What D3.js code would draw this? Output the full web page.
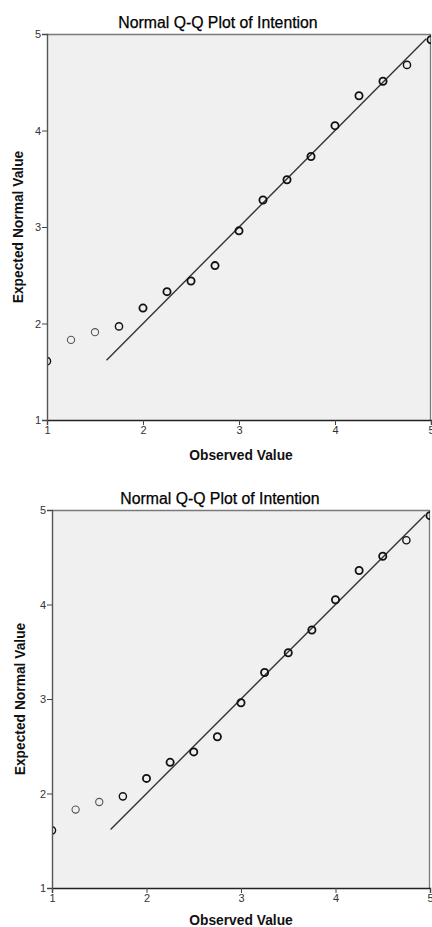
<!DOCTYPE html>
<html><head><meta charset="utf-8">
<script src="https://cdn.jsdelivr.net/npm/d3@7"></script>
<style>html,body{margin:0;padding:0;background:#fff;}svg{display:block;}</style>
</head><body>
<script>
const title = "Normal Q-Q Plot of Intention";
const xTitle = "Observed Value";
const yTitle = "Expected Normal Value";
const observed = [1, 1.25, 1.5, 1.75, 2, 2.25, 2.5, 2.75, 3, 3.25, 3.5, 3.75, 4, 4.25, 4.5, 4.75, 5];
const expected = [1.61, 1.83, 1.91, 1.97, 2.16, 2.33, 2.44, 2.60, 2.96, 3.28, 3.49, 3.73, 4.05, 4.36, 4.51, 4.68, 4.94];
const caseCounts = [2, 1, 1, 2, 3, 3, 3, 3, 4, 4, 4, 4, 4, 3, 4, 2, 3];
const refLine = [1.62, 4.95];
const xTicks = [1, 2, 3, 4, 5];
const yTicks = [1, 2, 3, 4, 5];

const svg = d3.select("body").append("svg").attr("width", 432).attr("height", 927);
const FONT = "Liberation Sans, Arial, sans-serif";

function drawChart(cfg, id) {
  const x = d3.scaleLinear().domain([1, 5]).range([cfg.left, cfg.right]);
  const y = d3.scaleLinear().domain([1, 5]).range([cfg.bottom, cfg.top]);
  const g = svg.append("g");
  g.append("clipPath").attr("id", "clip" + id).append("rect")
    .attr("x", cfg.left).attr("y", cfg.top).attr("width", cfg.right - cfg.left).attr("height", cfg.bottom - cfg.top);
  g.append("rect").attr("x", cfg.left).attr("y", cfg.top)
    .attr("width", cfg.right - cfg.left).attr("height", cfg.bottom - cfg.top)
    .attr("fill", "#f0f0f0");
  g.append("line").attr("x1", cfg.left).attr("x2", cfg.right).attr("y1", cfg.top + 0.5).attr("y2", cfg.top + 0.5)
    .attr("stroke", "#7a7a7a").attr("stroke-width", 1.3);
  g.append("line").attr("x1", cfg.right - 0.5).attr("x2", cfg.right - 0.5).attr("y1", cfg.top).attr("y2", cfg.bottom)
    .attr("stroke", "#7a7a7a").attr("stroke-width", 1.3);

  const plot = g.append("g").attr("clip-path", "url(#clip" + id + ")");
  plot.append("line")
    .attr("x1", x(refLine[0])).attr("y1", y(refLine[0]))
    .attr("x2", x(refLine[1])).attr("y2", y(refLine[1]))
    .attr("stroke", "#333").attr("stroke-width", 1.4);
  const pts = observed.map((o, i) => ({o, e: expected[i], c: caseCounts[i]}));
  plot.selectAll("circle").data(pts).enter().append("circle")
    .attr("cx", d => x(d.o)).attr("cy", d => y(d.e)).attr("r", 3.6)
    .attr("fill", "none")
    .attr("stroke", d => d.c <= 1 ? "#555" : "#111")
    .attr("stroke-width", d => d.c <= 1 ? 1.1 : (d.c === 2 ? 1.4 : 1.8));

  const xa = g.append("g").attr("transform", `translate(0,${cfg.bottom})`)
    .call(d3.axisBottom(x).tickValues(xTicks).tickSize(5).tickFormat(d3.format("d")));
  xa.select(".domain").attr("stroke", "#222").attr("stroke-width", 1.4);
  xa.selectAll(".tick line").attr("stroke", "#444");
  xa.selectAll(".tick text").attr("font-family", FONT).attr("font-size", 11).attr("fill", "#333").attr("dy", "0.55em");

  const ya = g.append("g").attr("transform", `translate(${cfg.left},0)`)
    .call(d3.axisLeft(y).tickValues(yTicks).tickSize(5).tickFormat(d3.format("d")));
  ya.select(".domain").attr("stroke", "#555").attr("stroke-width", 1.4);
  ya.selectAll(".tick line").attr("stroke", "#444");
  ya.selectAll(".tick text").attr("font-family", FONT).attr("font-size", 11).attr("fill", "#333").attr("x", -6);

  g.append("text").attr("x", cfg.titleX).attr("y", cfg.titleY).attr("text-anchor", "middle")
    .attr("font-family", FONT).attr("font-size", 15.8).attr("fill", "#000")
    .attr("stroke", "#000").attr("stroke-width", 0.25)
    .text(title);
  g.append("text").attr("x", cfg.xLabelX).attr("y", cfg.xLabelY).attr("text-anchor", "middle")
    .attr("font-family", FONT).attr("font-size", 13.8).attr("font-weight", "bold").attr("fill", "#111")
    .text(xTitle);
  g.append("text").attr("transform", `translate(${cfg.yLabelX},${(cfg.top + cfg.bottom) / 2}) rotate(-90)`)
    .attr("text-anchor", "middle")
    .attr("font-family", FONT).attr("font-size", 13.8).attr("font-weight", "bold").attr("fill", "#111")
    .text(yTitle);
}

drawChart({left: 47, right: 431, top: 34, bottom: 420, titleX: 218, titleY: 28, xLabelX: 241, xLabelY: 460, yLabelX: 23}, 1);
drawChart({left: 52, right: 430, top: 510, bottom: 888, titleX: 220, titleY: 504, xLabelX: 241, xLabelY: 925, yLabelX: 25}, 2);
</script>
</body></html>
